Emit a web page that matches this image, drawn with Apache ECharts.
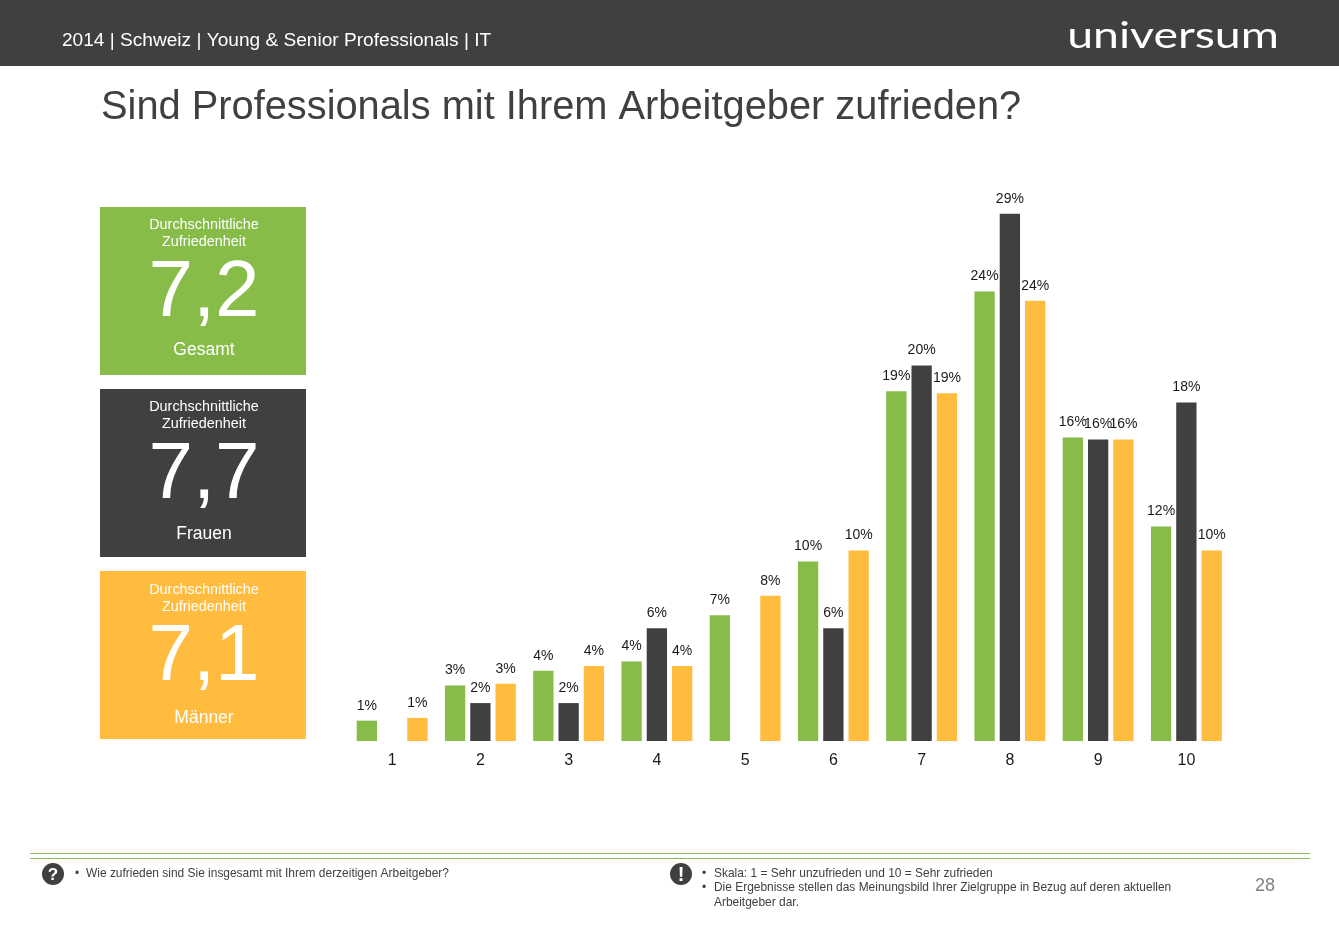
<!DOCTYPE html>
<html>
<head>
<meta charset="utf-8">
<title>Sind Professionals mit Ihrem Arbeitgeber zufrieden?</title>
<style>
html, body { margin: 0; padding: 0; background: #fff; }
#main { width: 1339px; height: 947px; }
</style>
<script src="https://cdn.jsdelivr.net/npm/echarts@6/dist/echarts.min.js"></script>
</head>
<body>
<div id="main"></div>
<script>
var categories = ['1', '2', '3', '4', '5', '6', '7', '8', '9', '10'];
var gesamt = [1.1, 3.0, 3.8, 4.3, 6.8, 9.7, 18.9, 24.3, 16.4, 11.6];
var frauen = [null, 2.05, 2.05, 6.1, null, 6.1, 20.3, 28.5, 16.3, 18.3];
var maenner = [1.25, 3.1, 4.05, 4.05, 7.85, 10.3, 18.8, 23.8, 16.3, 10.3];

var GREEN = '#86BC47';
var DARK = '#404040';
var ORANGE = '#FFBC3F';
var FONT = '"Liberation Sans", Arial, sans-serif';

// text element for the slide furniture
function txt(x, y, text, size, color, align, extra) {
    var style = {
        x: x, y: y, text: text, fontSize: size, fontFamily: FONT,
        fill: color, align: align || 'left', verticalAlign: 'middle'
    };
    for (var k in extra) { style[k] = extra[k]; }
    return { type: 'text', silent: true, style: style };
}
function rect(x, y, w, h, color) {
    return { type: 'rect', silent: true, shape: { x: x, y: y, width: w, height: h }, style: { fill: color } };
}
function circle(x, y, r, color) {
    return { type: 'circle', silent: true, shape: { cx: x, cy: y, r: r }, style: { fill: color } };
}
// one of the three score boxes on the left
function box(y, color, score, name, headDy, nameDy) {
    return [
        rect(100, y, 206, 168, color),
        txt(204, y + headDy, 'Durchschnittliche', 14.4, '#fff', 'center'),
        txt(204, y + headDy + 17, 'Zufriedenheit', 14.4, '#fff', 'center'),
        txt(204, y + 87, score, 80, '#fff', 'center'),
        txt(204, y + nameDy, name, 17.5, '#fff', 'center')
    ];
}

// logo is a wide wordmark, so stretch the text around its centre
var logo = txt(1173, 36, 'universum', 36, '#fff', 'center', { fontFamily: 'Lato, sans-serif', fontWeight: 400 });
logo.scaleX = 1.29;
logo.originX = 1173;
logo.originY = 36;

var graphics = [
    rect(0, 0, 1339, 66, DARK),
    txt(62, 41, '2014 | Schweiz | Young & Senior Professionals | IT', 19.1, '#fff'),
    logo,
    txt(101, 108, 'Sind Professionals mit Ihrem Arbeitgeber zufrieden?', 39.8, DARK),
    rect(30, 853, 1280, 1, '#8DB85A'),
    rect(30, 858, 1280, 1, '#8DB85A'),
    circle(53, 874, 11, DARK),
    txt(53, 875, '?', 17, '#fff', 'center', { fontWeight: 'bold' }),
    txt(75, 874, '•', 11.95, DARK),
    txt(86, 874, 'Wie zufrieden sind Sie insgesamt mit Ihrem derzeitigen Arbeitgeber?', 11.95, DARK),
    circle(681, 874, 11, DARK),
    txt(681, 875, '!', 20, '#fff', 'center', { fontWeight: 'bold' }),
    txt(702, 874, '•', 11.95, DARK),
    txt(714, 874, 'Skala: 1 = Sehr unzufrieden und 10 = Sehr zufrieden', 11.95, DARK),
    txt(702, 888, '•', 11.95, DARK),
    txt(714, 888, 'Die Ergebnisse stellen das Meinungsbild Ihrer Zielgruppe in Bezug auf deren aktuellen', 11.95, DARK),
    txt(714, 903, 'Arbeitgeber dar.', 11.95, DARK),
    txt(1265, 886, '28', 18, '#808080', 'center')
].concat(
    box(207, GREEN, '7,2', 'Gesamt', 18, 143),
    box(389, DARK, '7,7', 'Frauen', 18, 145),
    box(571, ORANGE, '7,1', 'Männer', 19, 147)
);

function barSeries(name, data, color) {
    return {
        name: name,
        type: 'bar',
        data: data,
        barWidth: 20.3,
        barGap: '24.6%',
        itemStyle: { color: color },
        label: {
            show: true,
            position: 'top',
            distance: 8,
            fontFamily: FONT,
            fontSize: 14,
            color: '#1a1a1a',
            formatter: function (p) { return Math.round(p.value) + '%'; }
        }
    };
}

var chart = echarts.init(document.getElementById('main'));
var option = {
    animation: false,
    backgroundColor: '#fff',
    grid: { left: 348, top: 186, width: 882.5, height: 555, containLabel: false },
    xAxis: {
        type: 'category',
        data: categories,
        axisLine: { show: false },
        axisTick: { show: false },
        axisLabel: { fontFamily: FONT, fontSize: 16, color: '#1a1a1a', margin: 12 }
    },
    yAxis: {
        type: 'value',
        min: 0,
        max: 30,
        show: false
    },
    series: [
        barSeries('Gesamt', gesamt, GREEN),
        barSeries('Frauen', frauen, DARK),
        barSeries('Männer', maenner, ORANGE)
    ],
    graphic: { elements: graphics }
};
chart.setOption(option);
</script>
</body>
</html>
